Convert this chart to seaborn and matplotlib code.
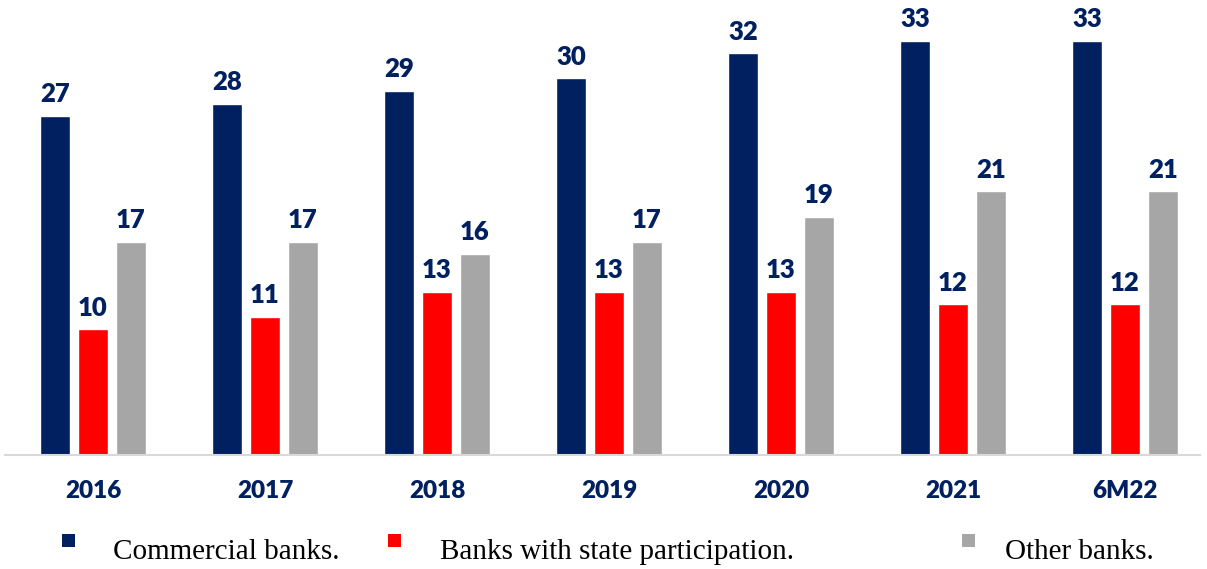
import matplotlib
matplotlib.use("Agg")
import matplotlib.pyplot as plt
import seaborn as sns
import pandas as pd
from matplotlib.patches import Rectangle

categories = ["2016", "2017", "2018", "2019", "2020", "2021", "6M22"]
series_names = ["Commercial banks.", "Banks with state participation.", "Other banks."]
commercial = [27, 28, 29, 30, 32, 33, 33]
state = [10, 11, 13, 13, 13, 12, 12]
other = [17, 17, 16, 17, 19, 21, 21]
colors = ["#002060", "#FF0000", "#A6A6A6"]

rows = []
for name, vals in zip(series_names, [commercial, state, other]):
    for c, v in zip(categories, vals):
        rows.append({"period": c, "series": name, "value": v})
df = pd.DataFrame(rows)

sns.set_theme(style="white")
plt.rcParams["font.family"] = ["Lato", "DejaVu Sans"]

W, H = 1207, 569
fig = plt.figure(figsize=(W / 100, H / 100), dpi=100)
ax = fig.add_axes([5 / W, 114 / H, 1195 / W, 455 / H])

sns.barplot(data=df, x="period", y="value", hue="series", hue_order=series_names,
            order=categories, palette=colors, width=0.663, gap=0.21,
            saturation=1, legend=False, ax=ax)

ax.set_xlim(-0.5116, 6.436)
ax.set_ylim(0, 36.25)
ax.set_xlabel("")
ax.set_ylabel("")
ax.set_yticks([])
for s in ["top", "right", "left"]:
    ax.spines[s].set_visible(False)
ax.spines["bottom"].set_color("#D9D9D9")
ax.spines["bottom"].set_linewidth(1.5)
ax.tick_params(axis="x", length=0, pad=18, labelsize=17.5, labelcolor="#002060")
for t in ax.get_xticklabels():
    t.set_fontweight("heavy")

for cont in ax.containers:
    ax.bar_label(cont, fmt="%d", padding=7, fontsize=18.5, fontweight="heavy", color="#002060")

# legend
leg_marker_x = [62, 388, 962]
leg_text_x = [113, 440, 1005]
for name, col, mx, tx in zip(series_names, colors, leg_marker_x, leg_text_x):
    fig.add_artist(Rectangle((mx / W, (H - 547) / H), 13 / W, 13 / H,
                             transform=fig.transFigure, facecolor=col, edgecolor="none"))
    fig.text(tx / W, (H - 552) / H, name, ha="left", va="center", fontsize=21,
             family=["Liberation Serif", "DejaVu Serif"], color="black")

fig.savefig("out.png", dpi=100)
